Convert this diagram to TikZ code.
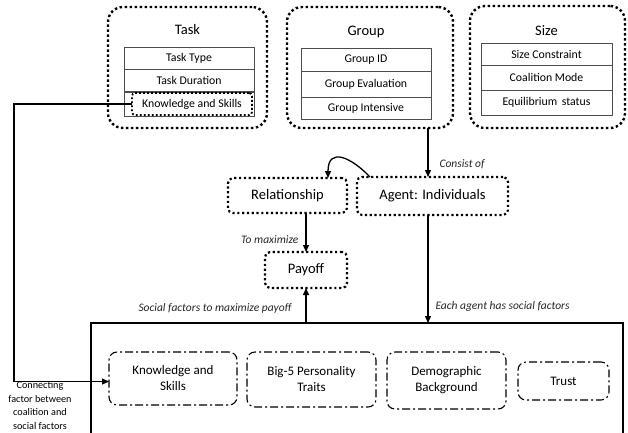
\documentclass[tikz,border=0pt]{standalone}
\usepackage{fontspec}
\setmainfont{Carlito}
\usetikzlibrary{arrows.meta,calc}
\begin{document}
\begin{tikzpicture}[x=1pt,y=-1pt,
  bigdot/.style={draw, line width=2.4pt, dash pattern=on 2.4pt off 2.6pt, rounded corners=15pt, inner sep=0pt, outer sep=0pt},
  middot/.style={draw, line width=2.2pt, dash pattern=on 2.2pt off 2.6pt, rounded corners=5pt, inner sep=0pt, outer sep=0pt, font=\fontsize{14.5}{16}\selectfont},
  smalldot/.style={draw, line width=1.8pt, dash pattern=on 1.8pt off 2.2pt, rounded corners=3pt, inner sep=0pt, outer sep=0pt},
  cell/.style={draw=black!70, line width=0.6pt, inner sep=0pt, outer sep=0pt, font=\fontsize{11.8}{13}\selectfont},
  title/.style={font=\fontsize{14.5}{16}\selectfont},
  dashdot/.style={draw, line width=1.1pt, dash pattern=on 8pt off 3pt on 2pt off 3pt, rounded corners=8pt, inner sep=0pt, outer sep=0pt, align=center, font=\fontsize{13}{16}\selectfont},
  lab/.style={font=\fontsize{11.5}{13}\selectfont\itshape, text=black!85},
  arr/.style={line width=1.3pt, -{Triangle[length=7pt,width=6pt]}},
  ln/.style={line width=1.2pt}]
\useasboundingbox (0,0) rectangle (628,432);

% Top group boxes
\node[bigdot, minimum width=159pt, minimum height=121pt] (task) at (187.5,67.5) {};
\node[bigdot, minimum width=166pt, minimum height=121pt] (group) at (370,67.5) {};
\node[bigdot, minimum width=155pt, minimum height=122pt] (size) at (547.5,67) {};

\node[title] (tasktitle) at (187.5,30) {Task};
\node[title] (grouptitle) at (366,32) {Group};
\node[title] (sizetitle) at (546.5,31) {Size};

% Task table
\node[cell, minimum width=130pt, minimum height=22pt] (t1) at (189,58) {Task Type};
\node[cell, minimum width=130pt, minimum height=22pt] (t2) at (189,80) {Task Duration};
\node[cell, minimum width=130pt, minimum height=24pt] (t3) at (189,104) {};
\node[smalldot, minimum width=120pt, minimum height=22pt, font=\fontsize{11.8}{13}\selectfont] (tks) at (192,104) {Knowledge and Skills};

% Group table
\node[cell, minimum width=130pt, minimum height=23pt] (g1) at (366,59.5) {Group ID};
\node[cell, minimum width=130pt, minimum height=26pt] (g2) at (366,84) {Group Evaluation};
\node[cell, minimum width=130pt, minimum height=22pt] (g3) at (366,108) {Group Intensive};

% Size table
\node[cell, minimum width=131pt, minimum height=22pt] (s1) at (546.5,54) {Size Constraint};
\node[cell, minimum width=131pt, minimum height=25pt] (s2) at (546.5,77.5) {Coalition Mode};
\node[cell, minimum width=131pt, minimum height=25pt] (s3) at (546.5,102.5) {Equilibrium\, status};

% Middle boxes
\node[middot, minimum width=119pt, minimum height=35pt] (rel) at (287.5,195.5) {Relationship};
\node[middot, minimum width=151pt, minimum height=38pt] (agent) at (432.5,196) {Agent: Individuals};
\node[middot, minimum width=82pt, minimum height=36pt] (pay) at (306,270) {Payoff};

% Bottom big box
\coordinate (bbl) at (91,323);
\coordinate (bbr) at (623,323);
\draw[ln] (91,440) -- (bbl) -- (bbr) -- (623,440);

% Bottom boxes
\node[dashdot, minimum width=128pt, minimum height=53pt] (ks) at (173,378.5) {Knowledge and\\Skills};
\node[dashdot, minimum width=129pt, minimum height=55pt] (big5) at (311.5,379.5) {Big-5 Personality\\Traits};
\node[dashdot, minimum width=119pt, minimum height=57pt] (demo) at (446.5,380.5) {Demographic\\Background};
\node[dashdot, minimum width=91pt, minimum height=38pt] (trust) at (563.5,381) {Trust};

% Connectors
\coordinate (ax) at (428,0);
\draw[arr] (group.south -| ax) -- (agent.north -| ax);
\node[lab, anchor=west] (consist) at (436,164) {Consist of};

\draw[arr] ([xshift=13pt]agent.north west) .. controls (352,158) and (328,146) .. ([xshift=-19pt]rel.north east);

\draw[arr] (rel.south -| pay.north) -- (pay.north);
\node[lab, anchor=east] (tomax) at (302,240) {To maximize};

\draw[arr] (pay.south |- bbl) -- (pay.south);
\node[lab] (social) at (215,308) {Social factors to maximize payoff};

\draw[arr] (agent.south -| ax) -- (ax |- bbl);
\node[lab, anchor=west] (each) at (432,306) {Each agent has social factors};

\coordinate (lx) at (14,0);
\coordinate (kin) at ([yshift=-3pt]ks.west);
\draw[line width=1.2pt, -{Triangle[length=7pt,width=6pt]}] (tks.west) -- (tks.west -| lx) -- (lx |- kin) -- (kin);
\node[align=center, font=\fontsize{10.2}{13.6}\selectfont] (conn) at (40,405.5) {Connecting\\factor between\\coalition and\\social factors};
\end{tikzpicture}
\end{document}
